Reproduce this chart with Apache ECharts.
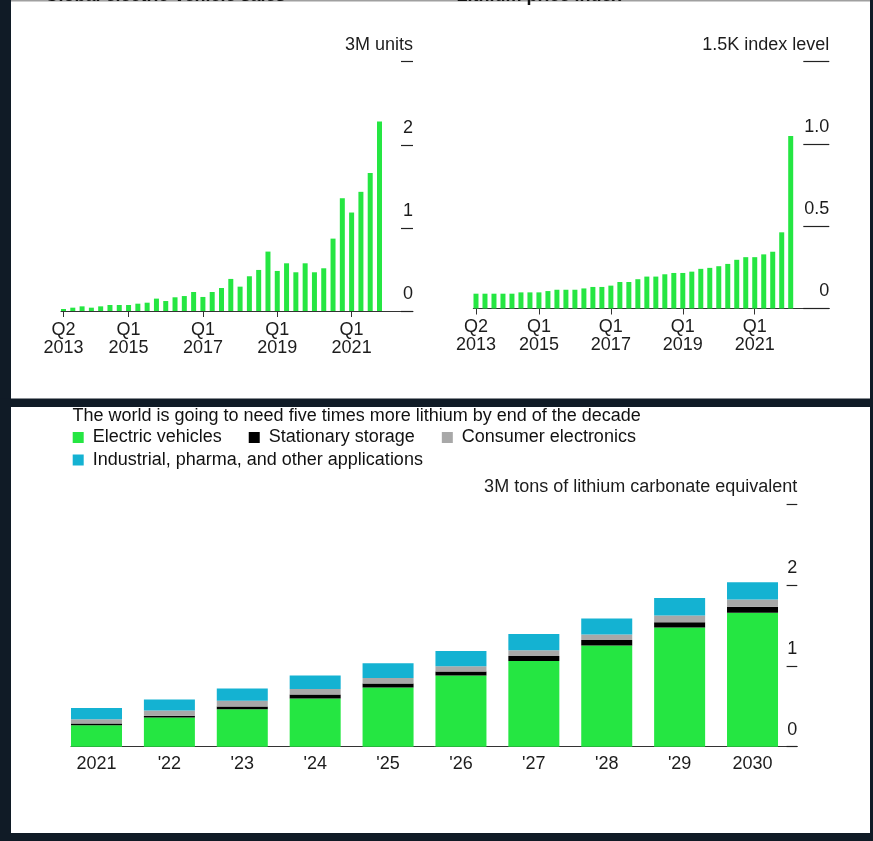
<!DOCTYPE html>
<html><head><meta charset="utf-8">
<script src="https://cdn.jsdelivr.net/npm/echarts@6/dist/echarts.min.js"></script>
<style>html,body{margin:0;padding:0;background:#101b26;}#c{width:873px;height:841px;}</style>
</head><body><div id="c"></div>
<script>
// ---------- data ----------
const evQuarters = ['Q2 2013','Q3 2013','Q4 2013','Q1 2014','Q2 2014','Q3 2014','Q4 2014',
  'Q1 2015','Q2 2015','Q3 2015','Q4 2015','Q1 2016','Q2 2016','Q3 2016','Q4 2016',
  'Q1 2017','Q2 2017','Q3 2017','Q4 2017','Q1 2018','Q2 2018','Q3 2018','Q4 2018',
  'Q1 2019','Q2 2019','Q3 2019','Q4 2019','Q1 2020','Q2 2020','Q3 2020','Q4 2020',
  'Q1 2021','Q2 2021','Q3 2021','Q4 2021'];
const evSales = [0.024,0.04,0.056,0.04,0.056,0.072,0.072,0.072,0.088,0.10,0.149,0.12,0.165,0.18,0.229,
  0.169,0.229,0.277,0.386,0.293,0.418,0.494,0.715,0.482,0.574,0.466,0.574,0.466,0.514,0.871,1.357,
  1.185,1.434,1.66,2.28];
const liQuarters = ['Q2 2013','Q3 2013','Q4 2013','Q1 2014','Q2 2014','Q3 2014','Q4 2014',
  'Q1 2015','Q2 2015','Q3 2015','Q4 2015','Q1 2016','Q2 2016','Q3 2016','Q4 2016',
  'Q1 2017','Q2 2017','Q3 2017','Q4 2017','Q1 2018','Q2 2018','Q3 2018','Q4 2018',
  'Q1 2019','Q2 2019','Q3 2019','Q4 2019','Q1 2020','Q2 2020','Q3 2020','Q4 2020',
  'Q1 2021','Q2 2021','Q3 2021','Q4 2021','Q1 2022'];
const lithiumIndex = [0.090,0.090,0.090,0.090,0.090,0.098,0.098,0.098,0.106,0.114,0.114,0.114,
  0.122,0.131,0.131,0.139,0.161,0.161,0.178,0.194,0.194,0.208,0.216,0.216,0.224,0.241,0.247,
  0.257,0.271,0.296,0.312,0.312,0.329,0.345,0.463,1.048];
const labeledQuarters = ['Q2 2013','Q1 2015','Q1 2017','Q1 2019','Q1 2021'];

const demandYears = ['2021',"'22","'23","'24","'25","'26","'27","'28","'29",'2030'];
const demandEV         = [0.267,0.362,0.465,0.597,0.733,0.881,1.062,1.255,1.477,1.658];
const demandStorage    = [0.020,0.020,0.033,0.049,0.049,0.049,0.062,0.066,0.066,0.074];
const demandConsumer   = [0.053,0.066,0.070,0.070,0.070,0.066,0.070,0.070,0.082,0.090];
const demandIndustrial = [0.140,0.136,0.152,0.165,0.181,0.189,0.202,0.198,0.218,0.214];

const evTickLabels = ['0','1','2','3M units'];
const liTickLabels = ['0','0.5','1.0','1.5K index level'];
const dmTickLabels = ['0','1','2','3M tons of lithium carbonate equivalent'];

const seriesNames = ['Electric vehicles','Stationary storage','Consumer electronics',
  'Industrial, pharma, and other applications'];
const titles = ['Global electric-vehicle sales','Lithium price index',
  'The world is going to need five times more lithium by end of the decade'];

// ---------- styles ----------
const F = "'Liberation Sans', Arial, Helvetica, sans-serif";
const TXT = '#1c1c1c';
const GREEN = '#25e642', BLACK = '#000000', GRAY = '#a8a8a8', CYAN = '#14b2d2';
const DARK = '#101b26';

function catAxis(grid, data, labeled) {
  const pick = (i, v) => labeled.includes(v);
  return {
    type: 'category', gridIndex: grid, data: data, boundaryGap: true,
    axisLine: {show: false, onZero: false},
    axisTick: {show: true, alignWithLabel: true, interval: pick, length: 6,
      lineStyle: {color: '#333', width: 1}},
    axisLabel: {interval: pick, formatter: v => v.replace(' ', '\n'), fontFamily: F,
      fontSize: 18, lineHeight: 18, color: TXT, margin: 10},
    splitLine: {show: false}
  };
}
function baseAxis(grid) {
  return {type: 'value', gridIndex: grid, min: 0, max: 1,
    axisLine: {show: true, onZero: false, lineStyle: {color: '#333', width: 1}},
    axisTick: {show: false}, axisLabel: {show: false}, splitLine: {show: false}};
}
function hiddenY(grid, max) {
  return {type: 'value', gridIndex: grid, min: 0, max: max, show: false,
    axisLine: {onZero: false}};
}
function labelY(grid, max, interval, labels, tickLen) {
  return {
    type: 'value', gridIndex: grid, min: 0, max: max, interval: interval, position: 'right',
    axisLine: {show: false, onZero: false},
    axisTick: {show: true, inside: true, length: tickLen, lineStyle: {color: '#222', width: 1.2}},
    axisLabel: {inside: true, margin: 0, align: 'right', verticalAlign: 'bottom',
      padding: [0, 0, 8, 0], fontFamily: F, fontSize: 18, lineHeight: 18, color: TXT,
      formatter: v => labels[Math.round(v / interval)]},
    splitLine: {show: false}
  };
}

const option = {
  backgroundColor: '#ffffff',
  animation: false,
  textStyle: {fontFamily: F},
  title: [
    {text: titles[0], left: 44.5, top: -12.5, padding: 0,
      textStyle: {fontFamily: F, fontSize: 18, fontWeight: 'bold', color: '#111', lineHeight: 18}},
    {text: titles[1], left: 456.6, top: -12.5, padding: 0,
      textStyle: {fontFamily: F, fontSize: 18, fontWeight: 'bold', color: '#111', lineHeight: 18}},
    {text: titles[2], left: 72.5, top: 407.5, padding: 0,
      textStyle: {fontFamily: F, fontSize: 18, fontWeight: 'normal', color: '#111', lineHeight: 18}}
  ],
  legend: [
    {data: seriesNames.slice(0, 3), left: 72.7, top: 428.5, padding: 0, icon: 'rect',
      itemWidth: 11, itemHeight: 11, itemGap: 27, selectedMode: false,
      textStyle: {fontFamily: F, fontSize: 18, color: '#111', padding: [0, 0, 0, 4]}},
    {data: seriesNames.slice(3), left: 72.7, top: 451, padding: 0, icon: 'rect',
      itemWidth: 11, itemHeight: 11, selectedMode: false,
      textStyle: {fontFamily: F, fontSize: 18, color: '#111', padding: [0, 0, 0, 4]}}
  ],
  grid: [
    {left: 58.85, top: 61.7, width: 325.3, height: 249.3},
    {left: 61, top: 61.7, width: 352, height: 249.3},
    {left: 471.5, top: 61.7, width: 323.7, height: 246.8},
    {left: 473.3, top: 61.7, width: 356, height: 246.8},
    {left: 60.06, top: 504.5, width: 728.9, height: 242.2},
    {left: 71, top: 504.5, width: 726.3, height: 242.2}
  ],
  xAxis: [
    catAxis(0, evQuarters, labeledQuarters),
    baseAxis(1),
    catAxis(2, liQuarters, labeledQuarters),
    baseAxis(3),
    {type: 'category', gridIndex: 4, data: demandYears, boundaryGap: true,
      axisLine: {show: false, onZero: false}, axisTick: {show: false},
      axisLabel: {fontFamily: F, fontSize: 18, lineHeight: 18, color: TXT, margin: 8.6},
      splitLine: {show: false}},
    baseAxis(5)
  ],
  yAxis: [
    hiddenY(0, 3),
    labelY(1, 3, 1, evTickLabels, 12),
    hiddenY(2, 1.5),
    labelY(3, 1.5, 0.5, liTickLabels, 26),
    hiddenY(4, 3),
    labelY(5, 3, 1, dmTickLabels, 10.7)
  ],
  series: [
    {type: 'bar', name: 'EV sales', xAxisIndex: 0, yAxisIndex: 0, data: evSales,
      barWidth: 5, itemStyle: {color: GREEN}},
    {type: 'bar', name: 'Lithium price', xAxisIndex: 2, yAxisIndex: 2, data: lithiumIndex,
      barWidth: 5, itemStyle: {color: GREEN}},
    {type: 'bar', name: seriesNames[0], xAxisIndex: 4, yAxisIndex: 4, stack: 'd',
      data: demandEV, barWidth: 51, itemStyle: {color: GREEN}},
    {type: 'bar', name: seriesNames[1], xAxisIndex: 4, yAxisIndex: 4, stack: 'd',
      data: demandStorage, barWidth: 51, itemStyle: {color: BLACK}},
    {type: 'bar', name: seriesNames[2], xAxisIndex: 4, yAxisIndex: 4, stack: 'd',
      data: demandConsumer, barWidth: 51, itemStyle: {color: GRAY}},
    {type: 'bar', name: seriesNames[3], xAxisIndex: 4, yAxisIndex: 4, stack: 'd',
      data: demandIndustrial, barWidth: 51, itemStyle: {color: CYAN}}
  ],
  graphic: [
    {type: 'rect', shape: {x: 0, y: 0, width: 11, height: 841}, style: {fill: DARK}, silent: true},
    {type: 'rect', shape: {x: 870, y: 0, width: 3, height: 841}, style: {fill: DARK}, silent: true},
    {type: 'rect', shape: {x: 0, y: 398.5, width: 873, height: 8.5}, style: {fill: DARK}, silent: true},
    {type: 'rect', shape: {x: 0, y: 833, width: 873, height: 8}, style: {fill: DARK}, silent: true},
    {type: 'rect', shape: {x: 11, y: 0, width: 859, height: 1.5}, style: {fill: '#a0a0a0'}, silent: true}
  ]
};

const chart = echarts.init(document.getElementById('c'), null, {renderer: 'canvas'});
chart.setOption(option);
</script>
</body></html>
